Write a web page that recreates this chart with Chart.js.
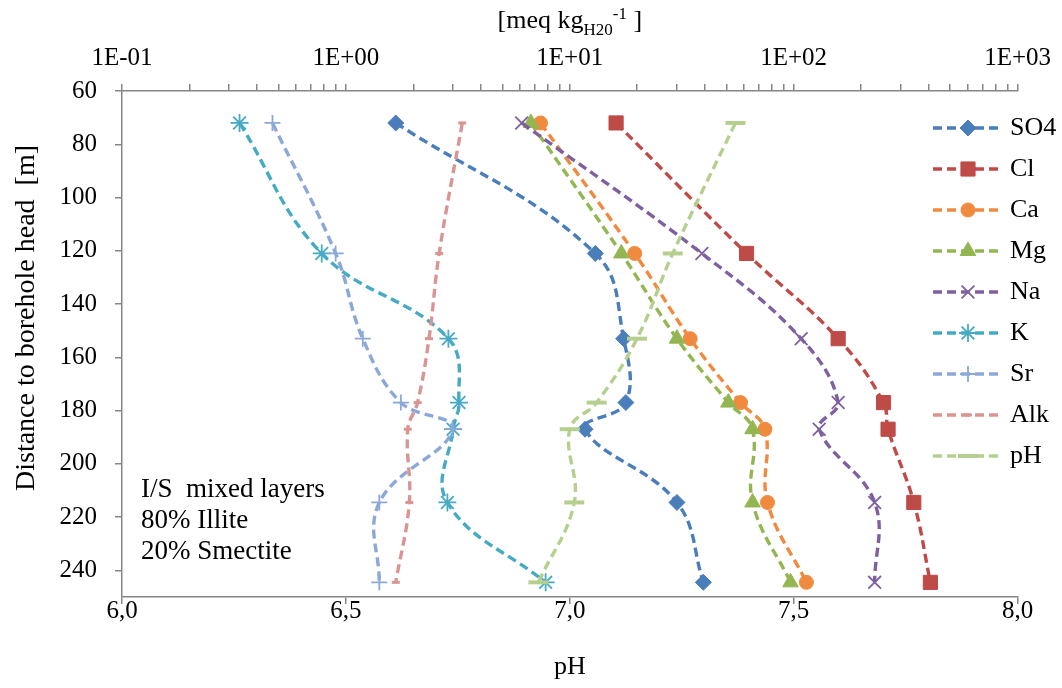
<!DOCTYPE html>
<html>
<head>
<meta charset="utf-8">
<script src="https://cdn.jsdelivr.net/npm/chart.js@4.4.1/dist/chart.umd.min.js"></script>
<style>
  html, body { margin: 0; padding: 0; background: #ffffff; }
  #wrap { width: 1062px; height: 688px; }
</style>
</head>
<body>
<div id="wrap"><canvas id="chart" width="1062" height="688"></canvas></div>
<script>
// Sampling depths along the borehole [m]
const depths = [72, 121, 153, 177, 187, 214.5, 244.5];

// Pore water concentrations [meq/kg H2O]
const so4 = [1.67, 13.0, 17.4, 17.8, 11.7, 30.1, 39.5];
const cl  = [16.1, 61.6, 158, 252, 264, 344, 408];
const ca  = [7.4, 19.5, 34.5, 57.9, 74.4, 76.4, 114];
const mg  = [6.7, 17.0, 30.1, 51.1, 65.5, 65.5, 96.8];
const na  = [6.1, 38.9, 108, 158, 130, 230, 230];
const k   = [0.335, 0.78, 2.87, 3.20, 3.01, 2.84, 7.8];
const sr  = [0.47, 0.90, 1.19, 1.76, 3.0, 1.41, 1.41];
const alk = [3.31, 2.61, 2.35, 2.09, 1.89, 1.92, 1.67];

// pH (bottom axis)
const ph  = [7.37, 7.23, 7.15, 7.06, 7.00, 7.01, 6.93];

const seriesNames = ['SO4', 'Cl', 'Ca', 'Mg', 'Na', 'K', 'Sr', 'Alk', 'pH'];
const seriesValues = [so4, cl, ca, mg, na, k, sr, alk, ph];

// Axis ticks
const depthTicks = [60, 80, 100, 120, 140, 160, 180, 200, 220, 240];
const phTicks = [6.0, 6.5, 7.0, 7.5, 8.0];
const concDecades = [0.1, 1, 10, 100, 1000];
const minorSteps = [2, 3, 4, 5, 6, 7, 8, 9];

const unitTitle = [['[meq kg', 'main'], ['H20', 'sub'], ['-1', 'sup'], [' ]', 'main']];
const depthTitle = 'Distance to borehole head  [m]';
const phTitle = 'pH';
const notes = ['I/S  mixed layers', '80% Illite', '20% Smectite'];

// Appearance
const FONT = '"Liberation Serif", "Times New Roman", serif';
const AXIS_COLOR = '#868686';
const styles = {
  SO4: { color: '#4a7ebb', point: 'rectRot',  radius: 8,  pw: 1 },
  Cl:  { color: '#be4b48', point: 'rect',     radius: 10, pw: 1 },
  Ca:  { color: '#f08a3e', point: 'circle',   radius: 7,  pw: 1 },
  Mg:  { color: '#93b651', point: 'triangle', radius: 9,  pw: 1 },
  Na:  { color: '#7d60a0', point: 'crossRot', radius: 9,  pw: 1.8 },
  K:   { color: '#46aac5', point: 'star',     radius: 9,  pw: 1.8 },
  Sr:  { color: '#8ca8d8', point: 'cross',    radius: 8,  pw: 1.8 },
  Alk: { color: '#da9593', point: 'line',     radius: 4,  pw: 3 },
  pH:  { color: '#b6cf8f', point: 'line',     radius: 10, pw: 4 }
};
const DASH = [9, 5];
const LINE_W = 3.4;

const datasets = seriesNames.map((name, i) => {
  const st = styles[name];
  return {
    label: name,
    data: depths.map((d, j) => ({ x: seriesValues[i][j], y: d })),
    xAxisID: name === 'pH' ? 'x' : 'x2',
    yAxisID: 'y',
    showLine: true,
    tension: 0.4,
    borderColor: st.color,
    backgroundColor: st.color,
    borderWidth: LINE_W,
    borderDash: DASH,
    pointStyle: st.point,
    pointRadius: st.radius,
    pointBorderWidth: st.pw,
    pointBackgroundColor: st.color,
    pointBorderColor: st.color,
    order: seriesNames.length - i,
    clip: false
  };
});

function isDecade(v) {
  const l = Math.log10(v);
  return Math.abs(l - Math.round(l)) < 1e-9;
}
function sciLabel(v) {
  const e = Math.round(Math.log10(v));
  return '1E' + (e < 0 ? '-' : '+') + String(Math.abs(e)).padStart(2, '0');
}

const tickFont = { family: FONT, size: 25 };
const gridOpts = { drawOnChartArea: false, drawTicks: true, tickLength: 7, color: AXIS_COLOR, lineWidth: 1.5 };
const borderOpts = { display: true, color: AXIS_COLOR, width: 1.5 };

// Extra text: unit title, depth title, notes and legend
const textPlugin = {
  id: 'chartTexts',
  afterDraw(chart) {
    const ctx = chart.ctx;
    const area = chart.chartArea;
    ctx.save();
    ctx.fillStyle = '#000';

    // unit title with subscript/superscript
    const fonts = { main: '26px ' + FONT, sub: '17px ' + FONT, sup: '17px ' + FONT };
    const shift = { main: 0, sub: 7, sup: -9 };
    let total = 0;
    unitTitle.forEach(([t, kind]) => { ctx.font = fonts[kind]; total += ctx.measureText(t).width; });
    let x = (area.left + area.right) / 2 - total / 2;
    ctx.textBaseline = 'alphabetic';
    ctx.textAlign = 'left';
    unitTitle.forEach(([t, kind]) => {
      ctx.font = fonts[kind];
      ctx.fillText(t, x, 28 + shift[kind]);
      x += ctx.measureText(t).width;
    });

    // depth axis title
    ctx.save();
    ctx.font = '28px ' + FONT;
    ctx.translate(27, 318);
    ctx.rotate(-Math.PI / 2);
    ctx.textAlign = 'center';
    ctx.textBaseline = 'middle';
    ctx.fillText(depthTitle, 0, 0);
    ctx.restore();

    // notes
    ctx.font = '27px ' + FONT;
    ctx.textAlign = 'left';
    ctx.textBaseline = 'alphabetic';
    notes.forEach((t, i) => ctx.fillText(t, 141, 497 + i * 31));

    // legend
    const drawPoint = Chart.helpers.drawPoint;
    chart.data.datasets.forEach((ds, i) => {
      const st = styles[ds.label];
      const y = 128 + i * 41;
      ctx.save();
      ctx.strokeStyle = st.color;
      ctx.fillStyle = st.color;
      ctx.lineWidth = LINE_W;
      ctx.setLineDash(DASH);
      ctx.beginPath();
      ctx.moveTo(933, y);
      ctx.lineTo(1003, y);
      ctx.stroke();
      ctx.setLineDash([]);
      ctx.lineWidth = st.pw;
      drawPoint(ctx, { pointStyle: st.point, radius: st.radius, borderWidth: st.pw, rotation: 0 }, 968, y);
      ctx.restore();
      ctx.fillStyle = '#000';
      ctx.font = '26px ' + FONT;
      ctx.textAlign = 'left';
      ctx.textBaseline = 'middle';
      ctx.fillText(ds.label, 1010, y);
    });
    ctx.restore();
  }
};

new Chart(document.getElementById('chart'), {
  type: 'scatter',
  data: { datasets },
  options: {
    responsive: false,
    animation: false,
    events: [],
    devicePixelRatio: 1,
    layout: { padding: { left: 0, right: 42, top: 0, bottom: 0 } },
    plugins: { legend: { display: false }, tooltip: { enabled: false } },
    scales: {
      x: {
        type: 'linear',
        position: 'bottom',
        min: 6, max: 8,
        afterBuildTicks: s => { s.ticks = phTicks.map(v => ({ value: v })); },
        afterFit: s => { s.height = 91; },
        ticks: {
          color: '#000', font: tickFont, padding: -8, maxRotation: 0, minRotation: 0,
          callback: v => Number(v).toFixed(1).replace('.', ',')
        },
        grid: gridOpts,
        border: borderOpts,
        title: { display: true, text: phTitle, color: '#000', font: { family: FONT, size: 26 }, padding: { top: 0, bottom: 5 } }
      },
      x2: {
        type: 'logarithmic',
        position: 'top',
        min: 0.1, max: 1000,
        afterBuildTicks: s => {
          const t = [];
          concDecades.forEach((d, i) => {
            t.push({ value: d, major: true });
            if (i < concDecades.length - 1) minorSteps.forEach(m => t.push({ value: d * m }));
          });
          s.ticks = t;
        },
        afterFit: s => { s.height = 91; },
        ticks: {
          color: '#000', font: tickFont, padding: 11, autoSkip: false, maxRotation: 0, minRotation: 0,
          callback: v => (isDecade(v) ? sciLabel(v) : '')
        },
        grid: gridOpts,
        border: borderOpts
      },
      y: {
        type: 'linear',
        position: 'left',
        reverse: true,
        min: 60, max: 250,
        afterBuildTicks: s => { s.ticks = depthTicks.map(v => ({ value: v })); },
        afterFit: s => { s.width = 122; },
        ticks: { color: '#000', font: tickFont, padding: 18 },
        grid: gridOpts,
        border: borderOpts
      }
    }
  },
  plugins: [textPlugin]
});
</script>
</body>
</html>
